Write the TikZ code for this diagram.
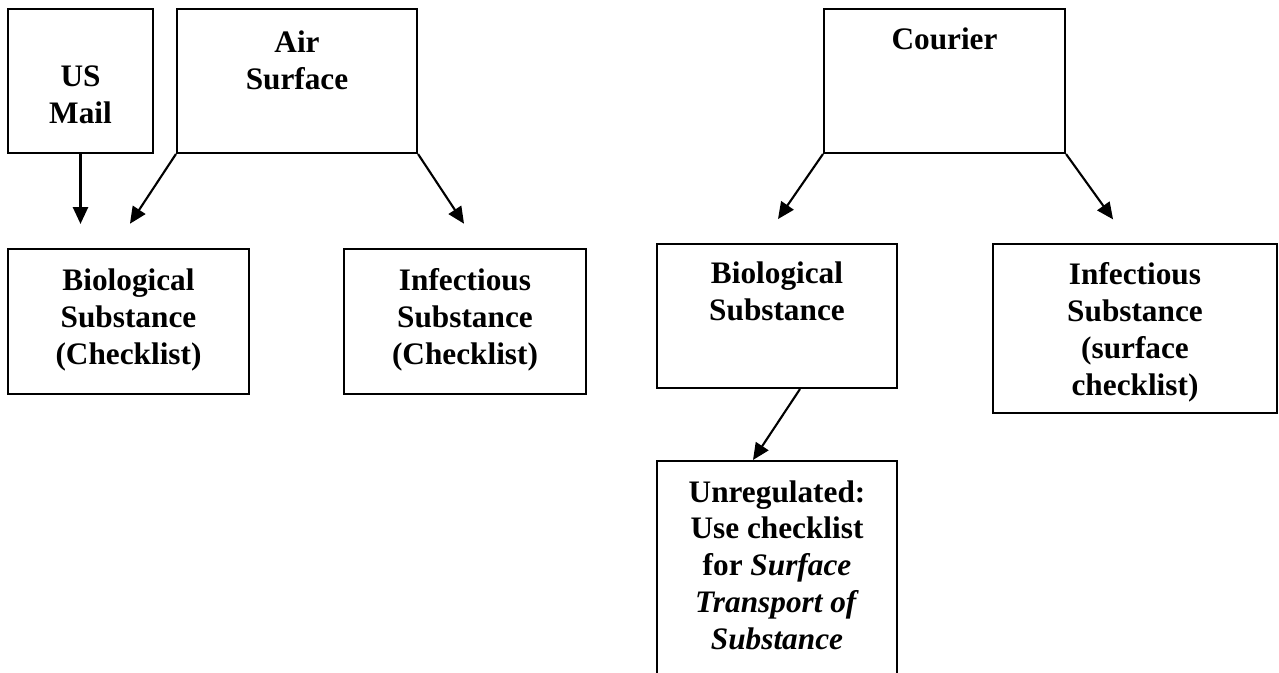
\documentclass[tikz,border=0pt]{standalone}
\usepackage{fontspec}
\setmainfont{Liberation Serif}
\usepackage{tikz}
\usetikzlibrary{arrows.meta}

\tikzset{
  box/.style={draw, line width=1.2pt, inner sep=0pt},
  txt/.style={anchor=north, align=center, inner sep=0pt,
    font=\bfseries\fontsize{17.8}{21}\selectfont},
  arr/.style={line width=1.2pt, -{Triangle[length=9.5pt,width=8.5pt]}}
}

\begin{document}
\begin{tikzpicture}

\useasboundingbox (0,0) rectangle (25.58,13.46);
\clip (0,0) rectangle (25.58,13.46);

% Top row
\node[box, minimum width=2.9cm, minimum height=2.88cm] (mail) at (1.61,11.84) {};
\node[txt] (mailtxt) at ([yshift=-1.15cm]mail.north) {US\\Mail};

\node[box, minimum width=4.8cm, minimum height=2.88cm] (air) at (5.94,11.84) {};
\node[txt] (airtxt) at ([yshift=-0.45cm]air.north) {Air\\Surface};

\node[box, minimum width=4.82cm, minimum height=2.88cm] (courier) at (18.89,11.84) {};
\node[txt] (couriertxt) at ([yshift=-0.4cm]courier.north) {Courier};

% Second row
\node[box, minimum width=4.82cm, minimum height=2.9cm] (bioL) at (2.57,7.03) {};
\node[txt] (bioLtxt) at ([yshift=-0.42cm]bioL.north) {Biological\\Substance\\(Checklist)};

\node[box, minimum width=4.84cm, minimum height=2.9cm] (infL) at (9.30,7.03) {};
\node[txt] (infLtxt) at ([yshift=-0.4cm]infL.north) {Infectious\\Substance\\(Checklist)};

\node[box, minimum width=4.8cm, minimum height=2.88cm] (bioR) at (15.54,7.14) {};
\node[txt] (bioRtxt) at ([yshift=-0.38cm]bioR.north) {Biological\\Substance};

\node[box, minimum width=5.68cm, minimum height=3.38cm] (infR) at (22.70,6.89) {};
\node[txt] (infRtxt) at ([yshift=-0.38cm]infR.north) {Infectious\\Substance\\(surface\\checklist)};

% Bottom
\node[box, anchor=north, minimum width=4.8cm, minimum height=5cm] (unreg) at (15.54,4.26) {};
\node[txt] (unregtxt) at ([yshift=-0.4cm]unreg.north)
  {Unregulated:\\Use checklist\\for \textit{Surface}\\\textit{Transport of}\\\textit{Substance}};

% Arrows
\draw[arr, shorten >=0.48cm] (mail.south) -- (mail.south |- bioL.north);
\draw[arr, shorten >=0.58cm] (air.south west) -- ([xshift=-0.29cm]bioL.north);
\draw[arr, shorten >=0.58cm] (air.south east) -- ([xshift=0.30cm]infL.north);
\draw[arr, shorten >=0.58cm] (courier.south west) -- ([xshift=-0.31cm]bioR.north);
\draw[arr, shorten >=0.58cm] (courier.south east) -- ([xshift=-0.10cm]infR.north);
\draw[arr] ([xshift=0.46cm]bioR.south) -- ([xshift=-0.48cm]unreg.north);

\end{tikzpicture}
\end{document}
